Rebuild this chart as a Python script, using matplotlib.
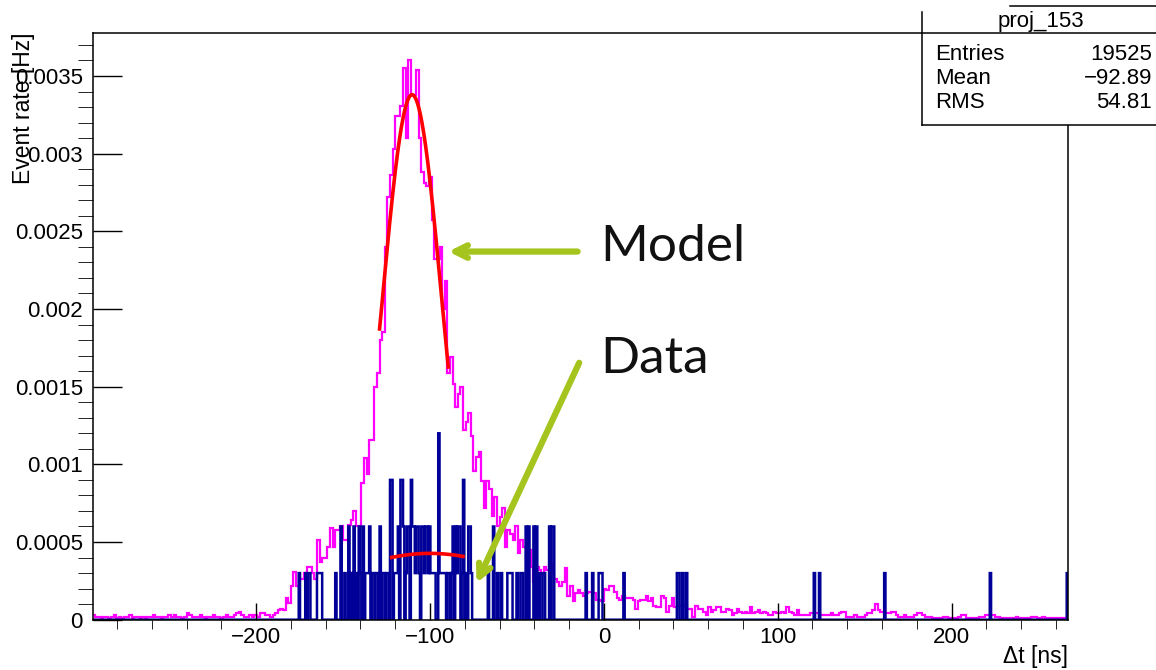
import numpy as np
import matplotlib.pyplot as plt
from matplotlib.ticker import MultipleLocator, FuncFormatter
from matplotlib.lines import Line2D
from matplotlib.patches import Rectangle

# model histogram (magenta): 1.5 ns bins starting at -294 ns, rate in 1e-5 Hz
model_start = -294.0
model_width = 1.5
model_rate = [
    3, 2, 2, 1, 2, 2, 1, 2, 3, 1,
    2, 1, 2, 2, 3, 1, 2, 2, 1, 2,
    1, 2, 2, 3, 2, 2, 1, 2, 2, 3,
    2, 3, 2, 2, 1, 2, 4, 3, 2, 2,
    2, 3, 2, 1, 2, 2, 3, 2, 2, 1,
    2, 3, 2, 2, 3, 4, 5, 3, 2, 2,
    3, 2, 3, 2, 4, 4, 3, 3, 2, 3,
    4, 6, 7, 6, 14, 11, 22, 31, 22, 26,
    26, 30, 34, 34, 30, 26, 51, 37, 40, 40,
    47, 59, 47, 58, 58, 60, 51, 51, 61, 64,
    70, 60, 60, 88, 104, 94, 116, 116, 150, 159,
    180, 185, 240, 272, 286, 303, 324, 324, 331, 355,
    310, 360, 338, 338, 354, 310, 288, 281, 279, 285,
    257, 232, 232, 240, 200, 218, 159, 169, 152, 137,
    145, 150, 122, 127, 133, 118, 96, 105, 108, 89,
    72, 89, 84, 67, 79, 60, 66, 72, 47, 58,
    55, 51, 60, 43, 51, 47, 46, 45, 34, 24,
    34, 32, 29, 34, 32, 36, 30, 26, 24, 22,
    24, 33, 15, 22, 12, 17, 19, 17, 15, 17,
    18, 18, 17, 13, 13, 12, 20, 19, 22, 22,
    18, 14, 13, 15, 14, 14, 14, 13, 7, 12,
    13, 13, 15, 12, 14, 9, 8, 8, 15, 14,
    5, 9, 14, 8, 9, 9, 10, 8, 7, 7,
    2, 9, 7, 7, 5, 3, 8, 5, 6, 8,
    8, 5, 5, 7, 6, 3, 4, 7, 5, 4,
    5, 4, 8, 4, 5, 6, 4, 5, 4, 3,
    3, 5, 4, 4, 5, 4, 8, 5, 4, 3,
    6, 3, 3, 3, 3, 4, 4, 4, 4, 3,
    3, 3, 3, 4, 3, 3, 4, 5, 5, 2,
    2, 2, 3, 2, 2, 2, 3, 4, 4, 6,
    10, 6, 5, 5, 4, 4, 5, 5, 3, 2,
    2, 3, 2, 2, 2, 3, 4, 4, 3, 2,
    2, 2, 1, 1, 1, 1, 2, 2, 1, 1,
    1, 1, 2, 3, 3, 1, 1, 1, 1, 1,
    2, 2, 3, 3, 3, 3, 2, 2, 1, 1,
    1, 1, 1, 1, 2, 1, 1, 1, 1, 1,
    2, 2, 1, 1, 2, 1, 1, 1, 1, 1,
    1, 1, 1, 1,
]

# data histogram (blue): 0.75 ns bins, non-empty bins only (time [ns], entries)
data_width = 0.75
data_t = [
    -175.5, -171.3, -170.2, -169.2,
    -165.0, -164.2, -163.5, -162.7,
    -154.2, -151.2, -149.2, -146.8, -145.5, -144.8, -143.6, -142.3,
    -141.0, -139.9, -138.5, -137.2, -136.4, -135.7, -134.6,
    -133.3, -132.2, -131.0, -130.3, -128.5,
    -127.2, -126.4, -125.0, -124.2, -122.5, -121.8,
    -120.6, -119.8, -119.0, -118.2, -116.6, -115.8,
    -114.8, -113.9, -113.0, -112.2, -111.0,
    -110.2, -109.0, -108.2, -107.4, -106.6, -105.8, -105.0, -104.2,
    -103.4, -102.6, -101.8, -101.0, -100.2,
    -99.2, -98.4, -97.6, -96.8, -95.1,
    -94.0, -93.2, -92.4, -91.6, -90.8, -89.8, -88.6, -87.6,
    -86.3, -85.5, -84.4, -83.6, -82.8, -81.6, -80.4,
    -79.2, -78.0, -77.0, -76.2,
    -66.2, -63.4, -60.8, -59.2, -55.3, -54.5, -53.7, -53.0,
    -50.0, -47.8, -46.6, -44.6, -43.0, -39.8, -38.9, -37.5,
    -35.0, -34.0, -31.0, -29.8, -28.8,
    -10.5, -6.6, -2.6, -1.9, -1.1, 11.5,
    42.5, 43.3, 45.0, 47.7, 121.0, 123.8, 161.8, 222.1, 266.6,
]
data_n = [
    1, 1, 1, 1,
    1, 1, 1, 1,
    1, 2, 1, 2, 1, 1, 2, 1,
    2, 1, 2, 1, 1, 1, 2,
    1, 1, 1, 1, 2,
    1, 1, 1, 1, 3, 3,
    1, 1, 1, 2, 3, 3,
    2, 1, 2, 2, 3,
    2, 2, 1, 2, 2, 1, 2, 2,
    1, 2, 2, 1, 2,
    1, 1, 1, 1, 4,
    1, 1, 1, 1, 1, 1, 1, 1,
    2, 2, 1, 2, 2, 1, 3,
    1, 2, 2, 1,
    1, 2, 1, 1, 1, 1, 1, 1,
    1, 1, 1, 2, 2, 2, 2, 1,
    1, 1, 2, 2, 2,
    1, 1, 1, 1, 1, 1,
    1, 1, 1, 1, 1, 1, 1, 1, 1,
]
rate_per_entry = 0.0003  # Hz

# gaussian fits: amplitude, mean, sigma, range
fit_model = [0.00338, -110.3, 17.2, -129.0, -89.5]
fit_data = [0.000427, -100.0, 62.0, -122.0, -81.0]

stats_title = 'proj_153'
stats_names = ['Entries', 'Mean', 'RMS']
stats_values = ['19525', '\u221292.89', '54.81']

x_lo, x_hi = -294.0, 267.0

plt.rcParams['font.family'] = ['Liberation Sans', 'DejaVu Sans']
W, H = 1156, 670
fig = plt.figure(figsize=(W / 100, H / 100), dpi=100)
ax = fig.add_axes([92.7 / W, 1 - 619.7 / H, (1068 - 92.7) / W, (619.7 - 33) / H])

model_edges = model_start + model_width * np.arange(len(model_rate) + 1)
ax.stairs(np.array(model_rate) * 1e-5, model_edges, color='#ff00ff', lw=1.6, baseline=None)

nbins = int(round((x_hi - x_lo) / data_width))
data_edges = x_lo + data_width * np.arange(nbins + 1)
counts = np.zeros(nbins)
idx = np.floor((np.array(data_t) - x_lo) / data_width).astype(int)
counts[idx] = data_n
ax.stairs(counts * rate_per_entry, data_edges, color='#000099', lw=1.8, baseline=0)

for amp, mu, sig, lo, hi in [fit_model, fit_data]:
    xs = np.linspace(lo, hi, 200)
    ax.plot(xs, amp * np.exp(-0.5 * ((xs - mu) / sig) ** 2), color='#ff0000', lw=2.6)

ax.set_xlim(x_lo, x_hi)
ax.set_ylim(0, 0.003777)
ax.xaxis.set_major_locator(MultipleLocator(100))
ax.xaxis.set_minor_locator(MultipleLocator(20))
ax.yaxis.set_major_locator(MultipleLocator(0.0005))
ax.yaxis.set_minor_locator(MultipleLocator(0.0001))
ax.xaxis.set_major_formatter(FuncFormatter(lambda v, p: ('%g' % v).replace('-', '\u2212')))
ax.yaxis.set_major_formatter(FuncFormatter(lambda v, p: '%g' % v))
ax.tick_params(direction='in', labelsize=16, width=1.0, top=False, right=False)
ax.tick_params(axis='x', which='major', length=12, pad=5)
ax.tick_params(axis='x', which='minor', length=6.5)
ax.tick_params(axis='y', which='major', length=21, pad=7)
ax.tick_params(axis='y', which='minor', length=10.5)
for s in ax.spines.values():
    s.set_linewidth(1.1)

fig.text(24 / W, 1 - 33 / H, 'Event rate [Hz]', rotation=90, ha='center', va='top', fontsize=16.5)
fig.text(1068 / W, 1 - 656 / H, '\u0394t [ns]', ha='right', va='center', fontsize=16.5)

# stats box
fig.add_artist(Rectangle((922 / W, 1 - 125 / H), (W - 922) / W, 113 / H,
                         transform=fig.transFigure, facecolor='white', edgecolor='none'))
for (x0, y0, x1, y1) in [(922, 12, 922, 125), (922, 125, W, 125), (922, 33, W, 33), (1010, 6, W, 6)]:
    fig.add_artist(Line2D([x0 / W, x1 / W], [1 - y0 / H, 1 - y1 / H], transform=fig.transFigure,
                          color='black', lw=1.1))
fig.text(1041 / W, 1 - 21 / H, stats_title, ha='center', va='center', fontsize=16)
for i, (nm, val) in enumerate(zip(stats_names, stats_values)):
    yy = 1 - (54 + 24 * i) / H
    fig.text(935 / W, yy, nm, ha='left', va='center', fontsize=16)
    fig.text(1152 / W, yy, val, ha='right', va='center', fontsize=16)

# annotations
green = '#a6c41e'
ax.annotate('', xy=(-91.0, 0.00237), xytext=(-13.5, 0.00237),
            arrowprops=dict(arrowstyle='->,head_length=0.9,head_width=0.45', color=green, lw=4.5))
ax.annotate('', xy=(-73.9, 0.00022), xytext=(-13.5, 0.00167),
            arrowprops=dict(arrowstyle='->,head_length=0.9,head_width=0.45', color=green, lw=4.5))
ax.text(-2.0, 0.00240, 'Model', fontsize=37, family=['Lato', 'DejaVu Sans'],
        ha='left', va='center', color='#111111')
ax.text(-2.0, 0.00168, 'Data', fontsize=37, family=['Lato', 'DejaVu Sans'],
        ha='left', va='center', color='#111111')

fig.savefig('out.png', dpi=100)
